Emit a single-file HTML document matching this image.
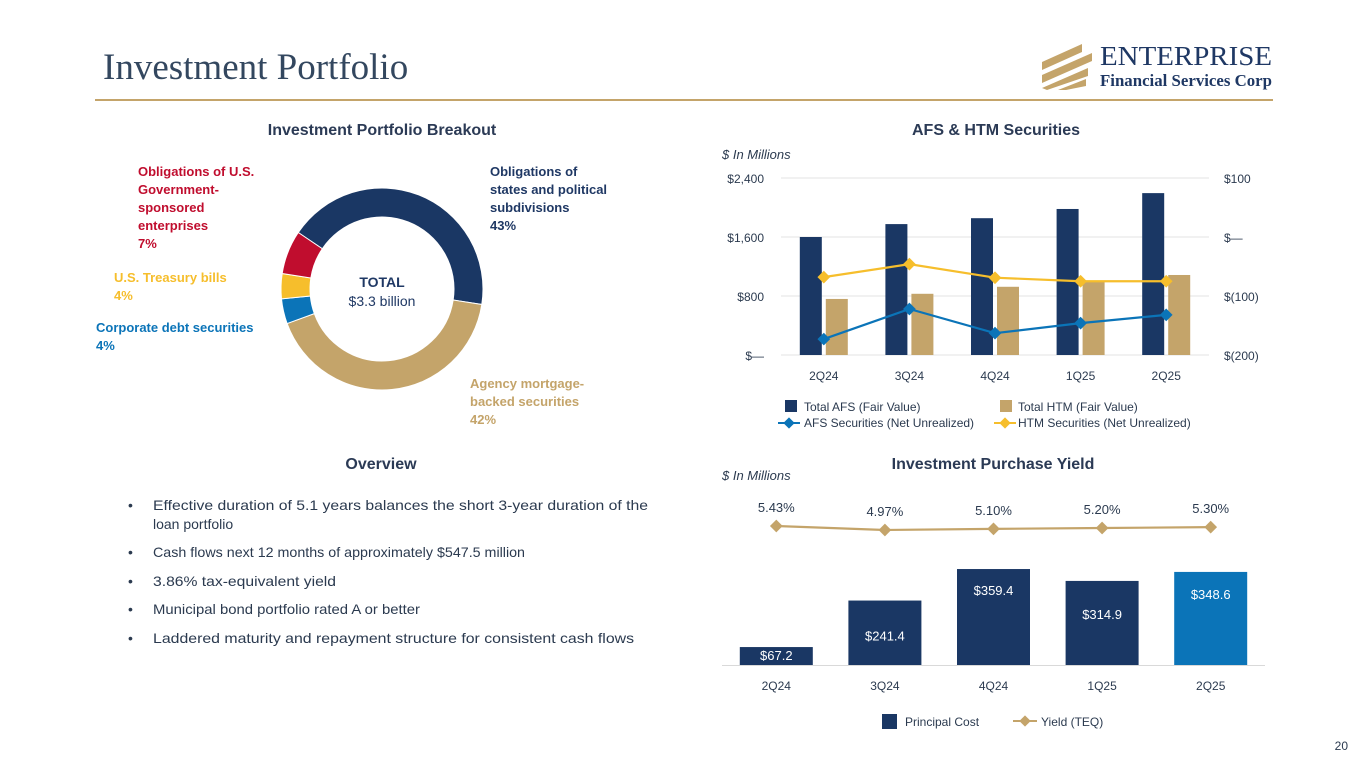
<!DOCTYPE html>
<html><head><meta charset="utf-8"><style>
body{margin:0;background:#fff}
svg{display:block;font-family:"Liberation Sans",sans-serif}
</style></head><body>
<svg width="1365" height="768" viewBox="0 0 1365 768" xmlns="http://www.w3.org/2000/svg">
<text x="103" y="79" font-family="Liberation Serif" font-size="37" fill="#33475f">Investment Portfolio</text>
<g>
<polygon points="1042,62 1082,44 1082,52 1042,70" fill="#c4a46a"/>
<polygon points="1042,75 1092,53 1092,61 1042,83" fill="#c4a46a"/>
<polygon points="1042,88 1088,68 1088,76 1047,90" fill="#c4a46a"/>
<polygon points="1058,90 1086,79 1086,86 1066,90" fill="#c4a46a"/>
<text x="1100" y="65" font-family="Liberation Serif" font-size="27" fill="#1f3864" textLength="172" lengthAdjust="spacingAndGlyphs">ENTERPRISE</text>
<text x="1100" y="86" font-family="Liberation Serif" font-size="17" font-weight="bold" fill="#1f3864" textLength="172" lengthAdjust="spacingAndGlyphs">Financial Services Corp</text>
</g>
<rect x="95" y="99" width="1178" height="2" fill="#c4a46a"/>

<!-- Donut -->
<text x="382" y="135" text-anchor="middle" font-size="16" font-weight="bold" fill="#2b3a55">Investment Portfolio Breakout</text>
<g id="donut"></g>
<text x="382" y="287" text-anchor="middle" font-size="14" font-weight="bold" fill="#1f3864">TOTAL</text>
<text x="382" y="306" text-anchor="middle" font-size="14" fill="#1f3864">$3.3 billion</text>
<g font-size="13" font-weight="bold" fill="#c00d2e">
<text x="138" y="176">Obligations of U.S.</text><text x="138" y="194">Government-</text><text x="138" y="212">sponsored</text><text x="138" y="230">enterprises</text><text x="138" y="248">7%</text></g>
<g font-size="13" font-weight="bold" fill="#f6be2c">
<text x="114" y="282">U.S. Treasury bills</text><text x="114" y="300">4%</text></g>
<g font-size="13" font-weight="bold" fill="#0b74b8">
<text x="96" y="332">Corporate debt securities</text><text x="96" y="350">4%</text></g>
<g font-size="13" font-weight="bold" fill="#1f3864">
<text x="490" y="176">Obligations of</text><text x="490" y="194">states and political</text><text x="490" y="212">subdivisions</text><text x="490" y="230">43%</text></g>
<g font-size="13" font-weight="bold" fill="#c4a46a">
<text x="470" y="388">Agency mortgage-</text><text x="470" y="406">backed securities</text><text x="470" y="424">42%</text></g>

<!-- Overview -->
<text x="381" y="469" text-anchor="middle" font-size="16" font-weight="bold" fill="#2b3a55">Overview</text>
<g font-size="14" fill="#2b3a4f">
<text x="128" y="510">•</text><text x="153" y="510" textLength="495" lengthAdjust="spacingAndGlyphs">Effective duration of 5.1 years balances the short 3-year duration of the</text>
<text x="153" y="529">loan portfolio</text>
<text x="128" y="557">•</text><text x="153" y="557" textLength="372" lengthAdjust="spacingAndGlyphs">Cash flows next 12 months of approximately $547.5 million</text>
<text x="128" y="586">•</text><text x="153" y="586" textLength="183" lengthAdjust="spacingAndGlyphs">3.86% tax-equivalent yield</text>
<text x="128" y="614">•</text><text x="153" y="614" textLength="267" lengthAdjust="spacingAndGlyphs">Municipal bond portfolio rated A or better</text>
<text x="128" y="643">•</text><text x="153" y="643" textLength="481" lengthAdjust="spacingAndGlyphs">Laddered maturity and repayment structure for consistent cash flows</text>
</g>

<!-- AFS HTM -->
<text x="996" y="135" text-anchor="middle" font-size="16" font-weight="bold" fill="#2b3a55">AFS &amp; HTM Securities</text>
<text x="722" y="159" font-size="13" font-style="italic" fill="#2b3a4f">$ In Millions</text>
<g id="afs"></g>
<g font-size="12" fill="#2b3a4f">
<g><rect x="785" y="400" width="12" height="12" fill="#1a3764"/><text x="804" y="411">Total AFS (Fair Value)</text></g>
<g><rect x="1000" y="400" width="12" height="12" fill="#c4a46a"/><text x="1018" y="411">Total HTM (Fair Value)</text></g>
<g><line x1="778" y1="423" x2="800" y2="423" stroke="#0b74b8" stroke-width="2"/><rect x="785" y="419" width="8" height="8" fill="#0b74b8" transform="rotate(45 789 423)"/><text x="804" y="427">AFS Securities (Net Unrealized)</text></g>
<g><line x1="994" y1="423" x2="1016" y2="423" stroke="#f6be2c" stroke-width="2"/><rect x="1001" y="419" width="8" height="8" fill="#f6be2c" transform="rotate(45 1005 423)"/><text x="1018" y="427">HTM Securities (Net Unrealized)</text></g>
</g>

<!-- Yield -->
<text x="993" y="469" text-anchor="middle" font-size="16" font-weight="bold" fill="#2b3a55">Investment Purchase Yield</text>
<text x="722" y="480" font-size="13" font-style="italic" fill="#2b3a4f">$ In Millions</text>
<g id="yield"></g>
<g font-size="12" fill="#2b3a4f">
<g><rect x="882" y="714" width="15" height="15" fill="#1a3764"/><text x="905" y="726">Principal Cost</text></g>
<g><line x1="1013" y1="721" x2="1037" y2="721" stroke="#c4a46a" stroke-width="2"/><rect x="1021" y="717" width="8" height="8" fill="#c4a46a" transform="rotate(45 1025 721)"/><text x="1041" y="726">Yield (TEQ)</text></g>
</g>
<text x="1348" y="750" text-anchor="end" font-size="12" fill="#2b3a4f">20</text>
</svg>
<script>
const NS='http://www.w3.org/2000/svg';
function mk(parent,tag,attrs,txt){const e=document.createElementNS(NS,tag);for(const k in attrs)e.setAttribute(k,attrs[k]);if(txt!==undefined)e.textContent=txt;parent.appendChild(e);return e;}

// Donut data
const donutLabels=['States & political subdivisions','Agency MBS','Corporate debt','Treasury bills','GSE obligations'];
const donutValues=[43,42,4,4,7];
const donutColors=['#1a3764','#c4a46a','#0b74b8','#f6be2c','#c00d2e'];

// AFS/HTM data
const afsCats=['2Q24','3Q24','4Q24','1Q25','2Q25'];
const afsFair=[1600,1775,1855,1980,2195];
const htmFair=[760,830,925,1005,1085];
const afsUnreal=[-173,-122,-163,-146,-132];
const htmUnreal=[-68,-46,-69,-75,-75];
const leftTicks=[0,800,1600,2400];
const leftTickLabels=['$—','$800','$1,600','$2,400'];
const rightTicks=[-200,-100,0,100];
const rightTickLabels=['$(200)','$(100)','$—','$100'];

// Yield data
const yCats=['2Q24','3Q24','4Q24','1Q25','2Q25'];
const principal=[67.2,241.4,359.4,314.9,348.6];
const principalLabels=['$67.2','$241.4','$359.4','$314.9','$348.6'];
const yieldVals=[5.43,4.97,5.10,5.20,5.30];
const yieldLabels=['5.43%','4.97%','5.10%','5.20%','5.30%'];

// Donut
(function(){
 const g=document.getElementById('donut');const cx=382,cy=289,R=101,r=72;
 const total=donutValues.reduce((a,b)=>a+b,0);let a0=-56*Math.PI/180;
 donutValues.forEach((v,i)=>{
  const a1=a0+v/total*2*Math.PI;const lg=(a1-a0)>Math.PI?1:0;
  const p=(rad,a)=>[cx+rad*Math.sin(a),cy-rad*Math.cos(a)];
  const [x0,y0]=p(R,a0),[x1,y1]=p(R,a1),[x2,y2]=p(r,a1),[x3,y3]=p(r,a0);
  const s=mk(g,'path',{d:`M${x0},${y0}A${R},${R} 0 ${lg} 1 ${x1},${y1}L${x2},${y2}A${r},${r} 0 ${lg} 0 ${x3},${y3}Z`,fill:donutColors[i],stroke:'#fff','stroke-width':1});
  
  
  a0=a1;
 });
})();

// AFS chart
(function(){
 const g=document.getElementById('afs');const x0=781,x1=1209,yB=355,yT=178;
 const yL=v=>yB-(v/2400)*(yB-yT);const yR=v=>yB-((v+200)/300)*(yB-yT);
 const step=(x1-x0)/afsCats.length;const cx=i=>x0+step*(i+0.5);
 leftTicks.forEach((t,i)=>{
  const l=mk(g,'line',{x1:x0,x2:x1,y1:yL(t),y2:yL(t),stroke:'#e3e3e3','stroke-width':1});
  
  
  const tx=mk(g,'text',{x:764,y:yL(t)+5,'text-anchor':'end','font-size':12,fill:'#2b3a4f'},leftTickLabels[i]);
  
  
 });
 rightTicks.forEach((t,i)=>{
  const tx=mk(g,'text',{x:1224,y:yR(t)+5,'font-size':12,fill:'#2b3a4f'},rightTickLabels[i]);
  
  
 });
 afsCats.forEach((c,i)=>{
  const b=mk(g,'rect',{x:cx(i)-24,y:yL(afsFair[i]),width:22,height:yB-yL(afsFair[i]),fill:'#1a3764'});
  
  
  const h=mk(g,'rect',{x:cx(i)+2,y:yL(htmFair[i]),width:22,height:yB-yL(htmFair[i]),fill:'#c4a46a'});
  
  
  const t=mk(g,'text',{x:cx(i),y:380,'text-anchor':'middle','font-size':12,fill:'#2b3a4f'},c);
  
  
 });
 [[htmUnreal,'#f6be2c','htm'],[afsUnreal,'#0b74b8','afs']].forEach(([arr,col,nm])=>{
  const pl=mk(g,'polyline',{points:arr.map((v,i)=>cx(i)+','+yR(v)).join(' '),fill:'none',stroke:col,'stroke-width':2.2});
  
  
  arr.forEach((v,i)=>{
   const m=mk(g,'rect',{x:cx(i)-4.5,y:yR(v)-4.5,width:9,height:9,fill:col,transform:`rotate(45 ${cx(i)} ${yR(v)})`});
   
   
  });
 });
})();

// Yield chart
(function(){
 const g=document.getElementById('yield');const x0=722,x1=1265,yB=665;
 const step=(x1-x0)/yCats.length;const cx=i=>x0+step*(i+0.5);
 const yP=v=>yB-v*0.267;const yY=v=>530-(v-4.97)*8.7;
 const ax=mk(g,'line',{x1:x0,x2:x1,y1:yB+0.5,y2:yB+0.5,stroke:'#d9d9d9','stroke-width':1});
 
 
 yCats.forEach((c,i)=>{
  const b=mk(g,'rect',{x:cx(i)-36.5,y:yP(principal[i]),width:73,height:yB-yP(principal[i]),fill:i===4?'#0b74b8':'#1a3764'});
  
  
  const lb=mk(g,'text',{x:cx(i),y:principal[i]<100?yP(principal[i])+13:yP(principal[i])+ (i===1?40:i===2?26:i===3?38:27),'text-anchor':'middle','font-size':13,fill:'#fff'},principalLabels[i]);
  
  
  const t=mk(g,'text',{x:cx(i),y:690,'text-anchor':'middle','font-size':12,fill:'#2b3a4f'},c);
  
  
 });
 const pl=mk(g,'polyline',{points:yieldVals.map((v,i)=>cx(i)+','+yY(v)).join(' '),fill:'none',stroke:'#c4a46a','stroke-width':2.2});
 
 
 yieldVals.forEach((v,i)=>{
  const m=mk(g,'rect',{x:cx(i)-4.5,y:yY(v)-4.5,width:9,height:9,fill:'#c4a46a',transform:`rotate(45 ${cx(i)} ${yY(v)})`});
  
  
  const lb=mk(g,'text',{x:cx(i),y:yY(v)-14,'text-anchor':'middle','font-size':13,fill:'#2b3a4f'},yieldLabels[i]);
  
  
 });
})();
</script>
</body></html>
